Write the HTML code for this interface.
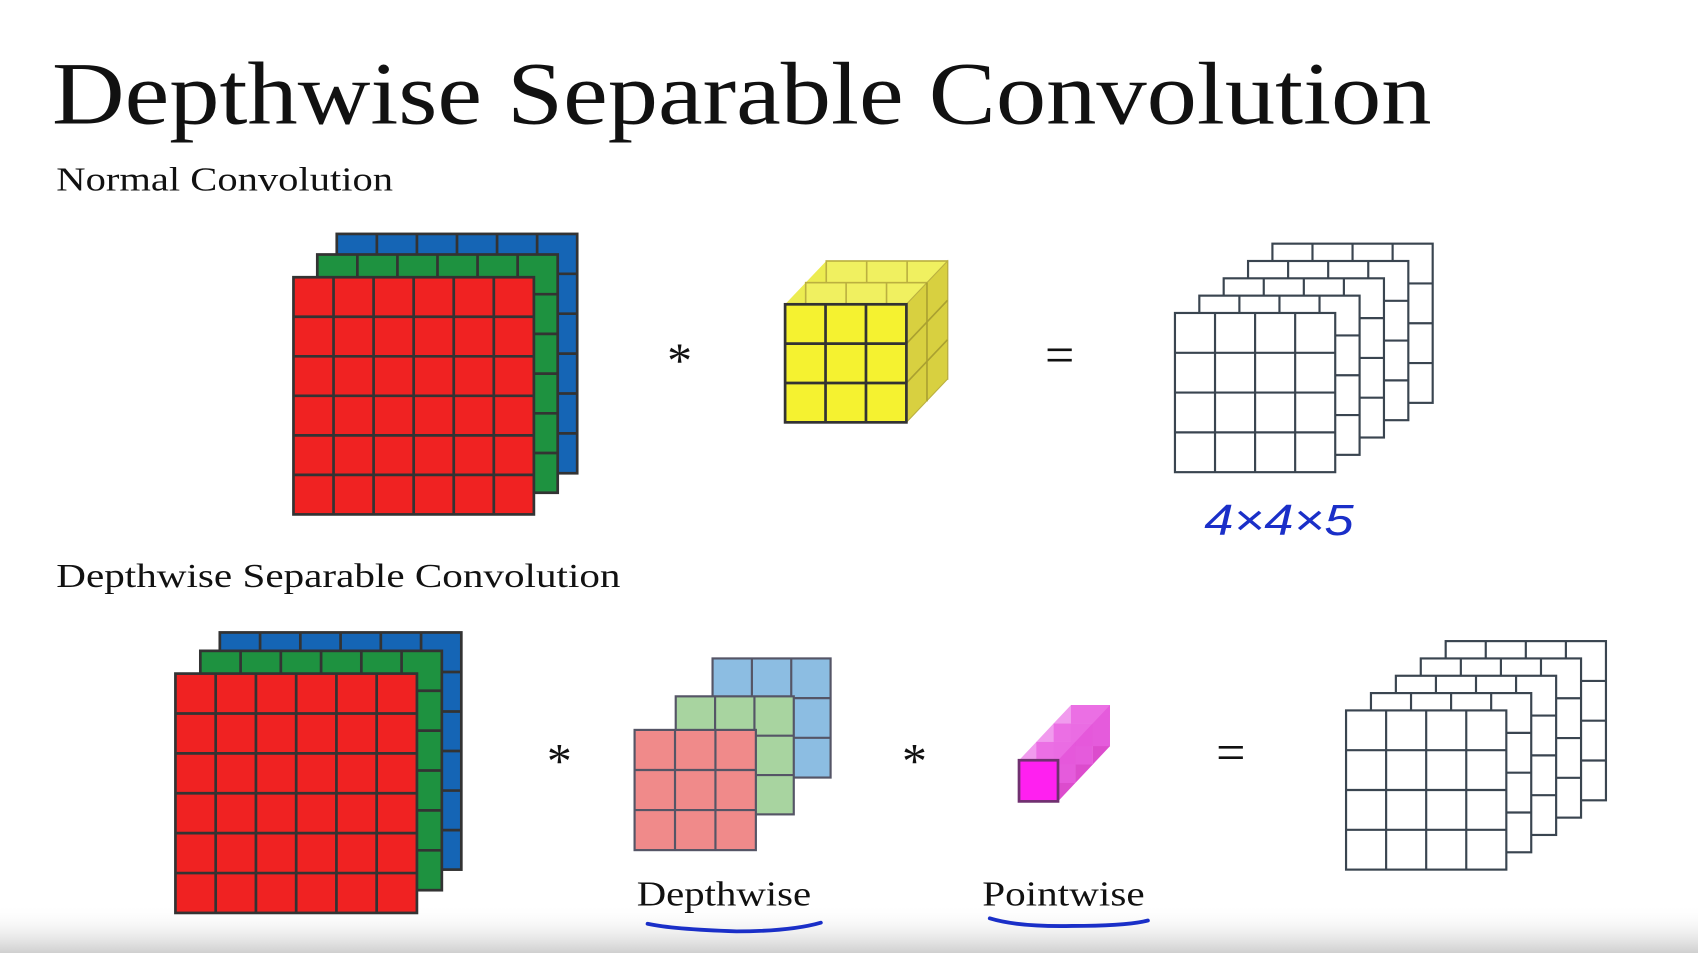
<!DOCTYPE html>
<html><head><meta charset="utf-8"><style>
html,body{margin:0;padding:0;background:#fff;overflow:hidden}
svg{display:block}
text{font-family:"Liberation Serif",serif;fill:#111}
</style></head><body>
<svg id="s" width="1698" height="953" viewBox="0 0 1568 880" preserveAspectRatio="none" xmlns="http://www.w3.org/2000/svg">
<defs><linearGradient id="bg" x1="0" y1="0" x2="0" y2="1"><stop offset="0" stop-color="#fff" stop-opacity="0"/><stop offset="1" stop-color="#cfcfcf"/></linearGradient></defs>
<rect x="0" y="835" width="1568" height="45" fill="url(#bg)"/>
<text x="48" y="114" font-size="82" textLength="1274" lengthAdjust="spacingAndGlyphs">Depthwise Separable Convolution</text>
<text x="52" y="176" font-size="31" textLength="311" lengthAdjust="spacingAndGlyphs">Normal Convolution</text>
<text x="52" y="542" font-size="31" textLength="521" lengthAdjust="spacingAndGlyphs">Depthwise Separable Convolution</text>
<text x="616" y="348" font-size="46">*</text>
<text x="965" y="344" font-size="48">=</text>
<text x="505" y="718" font-size="46">*</text>
<text x="833" y="718" font-size="46">*</text>
<text x="1123" y="711" font-size="48">=</text>
<text x="588" y="836" font-size="32" textLength="161" lengthAdjust="spacingAndGlyphs">Depthwise</text>
<text x="907" y="836" font-size="32" textLength="150" lengthAdjust="spacingAndGlyphs">Pointwise</text>
<path d="M598 853 Q620 858 680 860 Q730 860 758 852" stroke="#1a2fc8" stroke-width="3.5" fill="none" stroke-linecap="round"/>
<path d="M914 848 Q940 856 990 855 Q1040 855 1060 850" stroke="#1a2fc8" stroke-width="3.5" fill="none" stroke-linecap="round"/>
<text x="1112" y="494" font-size="40" textLength="138" lengthAdjust="spacingAndGlyphs" style="fill:#1a2fc8;font-family:'Liberation Sans',sans-serif;font-style:italic">4×4×5</text>
<g id="g"></g>
</svg>
<script>
const g=document.getElementById('g');
const NS='http://www.w3.org/2000/svg';
function grid(x,y,w,h,n,fill,stroke,sw,name){
  const e=document.createElementNS(NS,'g');
  
  
  let s=`<rect x="${x}" y="${y}" width="${w}" height="${h}" fill="${fill}" stroke="${stroke}" stroke-width="${sw}"/>`;
  for(let i=1;i<n;i++){
    s+=`<line x1="${x+w*i/n}" y1="${y}" x2="${x+w*i/n}" y2="${y+h}" stroke="${stroke}" stroke-width="${sw}"/>`;
    s+=`<line x1="${x}" y1="${y+h*i/n}" x2="${x+w}" y2="${y+h*i/n}" stroke="${stroke}" stroke-width="${sw}"/>`;
  }
  e.innerHTML=s;g.appendChild(e);
}
grid(311,216,222,221,6,'#1565b5','#333',2.5,'input-blue-channel');
grid(293,235,222,220,6,'#1e9240','#333',2.5,'input-green-channel');
grid(271,256,222,219,6,'#f02222','#333',2.5,'input-red-channel');
(function(){
  const e=document.createElementNS(NS,'g');
  
  
  let s='';
  const x=725,y=281,w=112,h=109,dx=19,dy=-20;
  for(let k=2;k>=1;k--){
    const ox=dx*k,oy=dy*k;
    s+=`<polygon points="${x+ox-dx},${y+oy-dy} ${x+ox},${y+oy} ${x+ox+w},${y+oy} ${x+ox+w-dx},${y+oy-dy}" fill="#ecec50"/>`;
    s+=`<rect x="${x+ox}" y="${y+oy}" width="${w}" height="${h}" fill="#f0f060" stroke="#bbb040" stroke-width="1.5"/>`;
    for(let i=1;i<3;i++){s+=`<line x1="${x+ox+w*i/3}" y1="${y+oy}" x2="${x+ox+w*i/3}" y2="${y+oy+h}" stroke="#bbb040" stroke-width="1.5"/>`;
    s+=`<line x1="${x+ox}" y1="${y+oy+h*i/3}" x2="${x+ox+w}" y2="${y+oy+h*i/3}" stroke="#bbb040" stroke-width="1.5"/>`;}
  }
  s+=`<polygon points="${x+w},${y} ${x+w+2*dx},${y+2*dy} ${x+w+2*dx},${y+h+2*dy} ${x+w},${y+h}" fill="#d8d040" stroke="#bbb040"/>`;
  for(let i=1;i<3;i++)s+=`<line x1="${x+w}" y1="${y+h*i/3}" x2="${x+w+2*dx}" y2="${y+h*i/3+2*dy}" stroke="#aaa030" stroke-width="1.5"/>`;
  s+=`<line x1="${x+w+dx}" y1="${y+dy}" x2="${x+w+dx}" y2="${y+h+dy}" stroke="#aaa030" stroke-width="1.5"/>`;
  e.innerHTML=s;g.appendChild(e);
  grid(x,y,w,h,3,'#f5f230','#333',2.5,'filter-front-face');
})();
for(let k=4;k>=0;k--)grid(1085+22.5*k,289-16*k,148,147,4,'#fff','#3a4550',2,'output-channel-'+(k+1));
for(let k=4;k>=0;k--)grid(1243+23*k,656-16*k,148,147,4,'#fff','#3a4550',2,'output2-channel-'+(k+1));
grid(203,584,223,219,6,'#1565b5','#333',2.5,'input2-blue-channel');
grid(185,601,223,221,6,'#1e9240','#333',2.5,'input2-green-channel');
grid(162,622,223,221,6,'#f02222','#333',2.5,'input2-red-channel');
grid(658,608,109,110,3,'#8cbde2','#556',2,'depthwise-filter-blue');
grid(624,643,109,109,3,'#a8d4a0','#556',2,'depthwise-filter-green');
grid(586,674,112,111,3,'#f08a8a','#556',2,'depthwise-filter-red');
(function(){
  const e=document.createElementNS(NS,'g');
  
  
  let s='';const x=941,y=702,w=36,h=38,dx=16,dy=-17;
  for(let k=3;k>=1;k--){
    const ox=dx*k,oy=dy*k;
    s+=`<polygon points="${x+ox-dx},${y+oy-dy} ${x+ox},${y+oy} ${x+ox+w},${y+oy} ${x+ox+w-dx},${y+oy-dy}" fill="#f090ec" opacity="0.9"/>`;
    s+=`<polygon points="${x+ox+w},${y+oy} ${x+ox+w},${y+oy+h} ${x+ox+w-dx},${y+oy+h-dy} ${x+ox+w-dx},${y+oy-dy}" fill="#d838c8" opacity="0.9"/>`;
    s+=`<rect x="${x+ox}" y="${y+oy}" width="${w}" height="${h}" fill="#e860e0" opacity="0.75"/>`;
  }
  s+=`<rect x="${x}" y="${y}" width="${w}" height="${h}" fill="#ff20f0" stroke="#703070" stroke-width="2.5"/>`;
  e.innerHTML=s;g.appendChild(e);
})();
</script>
</body></html>
